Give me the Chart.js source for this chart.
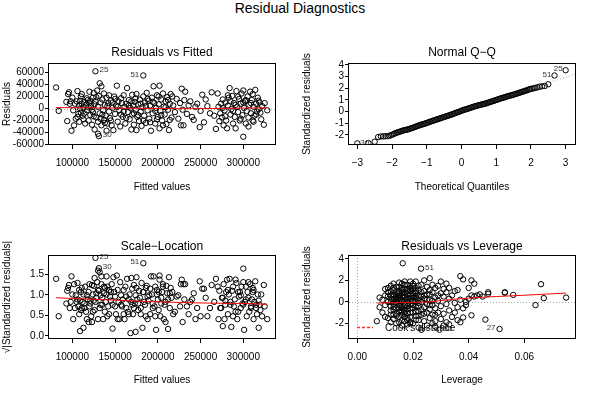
<!DOCTYPE html>
<html><head><meta charset="utf-8">
<script src="https://cdn.jsdelivr.net/npm/chart.js@4.4.0/dist/chart.umd.min.js"></script>
<style>
html,body{margin:0;padding:0;background:#fff;}
#wrap{position:relative;width:600px;height:400px;overflow:hidden;background:#fff;}
#wrap canvas{position:absolute;}
#main{position:absolute;left:0;top:0;width:600px;text-align:center;font:14px "Liberation Sans",Arial,sans-serif;line-height:16px;color:#000;}
</style></head><body>
<div id="wrap">
<div id="main">Residual Diagnostics</div>
<canvas id="c1" width="300" height="160" style="left:0;top:40px"></canvas>
<canvas id="c2" width="300" height="160" style="left:300px;top:40px"></canvas>
<canvas id="c3" width="300" height="168" style="left:0;top:232px"></canvas>
<canvas id="c4" width="300" height="168" style="left:300px;top:232px"></canvas>
</div>
<script>
// ---------- DATA ----------
const panelTitles = ["Residuals vs Fitted", "Normal Q\u2212Q", "Scale\u2212Location", "Residuals vs Leverage"];

const fittedTicks = [100000, 150000, 200000, 250000, 300000];
const fittedTickLabels = ["100000", "150000", "200000", "250000", "300000"];
const residTicks = [-60000, -40000, -20000, 0, 20000, 40000, 60000];
const residTickLabels = ["-60000", "-40000", "-20000", "0", "20000", "40000", "60000"];
const qqXTicks = [-3, -2, -1, 0, 1, 2, 3];
const qqXTickLabels = ["\u22123", "\u22122", "\u22121", "0", "1", "2", "3"];
const qqYTicks = [-2, -1, 0, 1, 2, 3, 4];
const qqYTickLabels = ["-2", "-1", "0", "1", "2", "3", "4"];
const slTicks = [0, 0.5, 1, 1.5];
const slTickLabels = ["0.0", "0.5", "1.0", "1.5"];
const levTicks = [0, 0.02, 0.04, 0.06];
const levTickLabels = ["0.00", "0.02", "0.04", "0.06"];
const levYTicks = [-2, 0, 2, 4];
const levYTickLabels = ["-2", "0", "2", "4"];

// [fitted, residual]
const residualsVsFitted = [
[81000,35000],[84000,-4000],[93000,11000],[94000,-21000],[95000,24000],[96000,27000],[97000,8000],[98000,12000],[99000,-37000],[100000,18000],
[101000,-3000],[102000,-28000],[103000,8000],[104000,-17000],[105000,12000],[106000,29000],[107000,-9000],[108000,5000],[108000,-22000],[109000,13000],
[110000,-7000],[110000,20000],[111000,8000],[112000,-12000],[113000,2000],[113000,-18000],[114000,11000],[115000,-25000],[116000,6000],[117000,-3000],
[118000,14000],[119000,-20000],[120000,28000],[120000,9000],[121000,-11000],[122000,4000],[123000,-27000],[124000,18000],[124000,-6000],[125000,26000],
[126000,-35000],[126000,7000],[127000,62000],[127000,12000],[130000,-42000],[128000,-15000],[131000,-46000],[129000,30000],[130000,3000],[130000,-22000],
[131000,21000],[132000,-8000],[132000,42000],[133000,10000],[134000,-28000],[134000,37000],[135000,15000],[136000,-3000],[137000,25000],[137000,-19000],
[138000,6000],[139000,-12000],[140000,-37000],[140000,18000],[141000,-25000],[142000,9000],[143000,-5000],[144000,-16000],[145000,13000],[146000,-28000],
[147000,1000],[148000,-36000],[149000,20000],[150000,-9000],[151000,5000],[152000,38000],[153000,-22000],[154000,12000],[155000,-3000],[156000,-30000],
[157000,17000],[158000,9000],[159000,-14000],[160000,22000],[161000,3000],[162000,-25000],[163000,8000],[164000,34000],[165000,-6000],[166000,14000],
[167000,-18000],[168000,1000],[169000,-35000],[170000,23000],[170000,-10000],[171000,5000],[172000,-27000],[173000,11000],[174000,-2000],[175000,-36000],
[175000,24000],[176000,-14000],[177000,7000],[178000,-21000],[179000,15000],[180000,-5000],[181000,-29000],[183000,55000],[182000,2000],[183000,20000],
[184000,-12000],[185000,10000],[186000,-24000],[187000,26000],[188000,-3000],[189000,13000],[190000,-17000],[191000,5000],[192000,-37000],[193000,18000],
[194000,-8000],[195000,37000],[196000,9000],[197000,-25000],[198000,1000],[199000,22000],[200000,-14000],[201000,7000],[202000,38000],[202000,-33000],
[203000,-4000],[204000,15000],[205000,-20000],[206000,25000],[207000,3000],[208000,-10000],[209000,12000],[210000,-26000],[211000,19000],[212000,-2000],
[213000,-36000],[214000,8000],[215000,24000],[216000,-15000],[218000,5000],[220000,-6000],[222000,16000],[224000,-17000],[226000,9000],[227000,-28000],
[228000,33000],[229000,-2000],[230000,-28000],[231000,14000],[232000,28000],[234000,-9000],[236000,5000],[238000,12000],[240000,-14000],[242000,-19000],
[244000,3000],[246000,8000],[249000,-31000],[250000,-4000],[252000,23000],[254000,-23000],[256000,15000],[258000,4000],[261000,-8000],[263000,27000],
[266000,-12000],[268000,-34000],[270000,25000],[271000,3000],[272000,-21000],[274000,8000],[275000,-15000],[276000,15000],[277000,-28000],[278000,-3000],
[279000,10000],[280000,-20000],[281000,-33000],[282000,5000],[283000,18000],[284000,34000],[285000,-10000],[286000,-1000],[287000,21000],[288000,-25000],
[289000,9000],[290000,-14000],[291000,-33000],[292000,29000],[293000,3000],[294000,-6000],[295000,16000],[296000,-20000],[297000,8000],[298000,25000],
[299000,-11000],[300000,-47000],[300000,30000],[301000,1000],[302000,12000],[303000,-25000],[304000,-4000],[305000,20000],[306000,-15000],[307000,6000],
[308000,28000],[309000,-8000],[310000,14000],[311000,-20000],[312000,3000],[313000,-12000],[314000,31000],[315000,8000],[316000,-5000],[317000,18000],
[318000,-1000],[319000,10000],[320000,-7000],[322000,4000],[324000,-27000],[325000,9000],[328000,-3000],
[106000,-14000],[109000,0],[111000,24000],[114000,-8000],[117000,17000],[119000,2000],[121000,13000],[123000,-2000],[125000,-13000],[128000,19000],
[133000,-17000],[135000,-10000],[138000,-24000],[141000,4000],[143000,22000],[145000,-20000],[147000,10000],[150000,16000],[153000,3000],[157000,-10000],
[160000,-5000],[163000,-16000],[166000,5000],[169000,12000],[172000,-8000],[174000,17000],[177000,-11000],[180000,8000],[183000,-20000],[186000,4000],
[188000,16000],[191000,-23000],[194000,11000],[197000,-4000],[199000,-18000],[201000,20000],[204000,-11000],[206000,-28000],[209000,2000],[212000,14000],
[214000,-19000],[217000,20000],[273000,-8000],[276000,1000],[279000,-13000],[282000,22000],[285000,12000],[288000,-4000],[291000,6000],[294000,20000],
[297000,-17000],[300000,10000],[303000,14000],[306000,-30000],[309000,9000],[312000,-22000],[315000,-10000],[318000,13000],[321000,-18000],[311000,24000]
];
const fittedSmooth = [[81000,1500],[120000,1200],[160000,500],[200000,0],[240000,-200],[280000,300],[328000,1200]];
const fittedLabels = [{text:"25",x:127000,y:62000,pos:"right"},{text:"51",x:183000,y:55000,pos:"left"},{text:"30",x:131000,y:-46000,pos:"right"}];

// [theoretical quantile, standardized residual]
const normalQQ = [
[-3.0,-2.72],[-2.68,-2.7],[-2.5,-2.58],[-2.4,-2.18],[-2.32,-2.13],[-2.25,-2.12],[-2.19,-2.11],[-2.13,-2.1],[-2.08,-2.07],[-2.03,-2.02],
[-1.98,-1.96],[-1.94,-1.9],[-1.9,-1.84],[-1.86,-1.8],[-1.82,-1.76],[-1.78,-1.72],[-1.74,-1.68],[-1.7,-1.64],[-1.66,-1.6],[-1.62,-1.57],
[-1.58,-1.55],[-1.54,-1.52],[-1.5,-1.48],[-1.46,-1.44],[-1.42,-1.4],[-1.38,-1.36],[-1.34,-1.31],[-1.3,-1.27],[-1.26,-1.22],[-1.22,-1.18],
[-1.18,-1.14],[-1.14,-1.1],[-1.1,-1.07],[-1.06,-1.03],[-1.02,-0.99],[-0.98,-0.95],[-0.94,-0.9],[-0.9,-0.86],[-0.86,-0.82],[-0.82,-0.78],
[-0.78,-0.74],[-0.74,-0.7],[-0.7,-0.66],[-0.66,-0.62],[-0.62,-0.58],[-0.58,-0.54],[-0.54,-0.5],[-0.5,-0.46],[-0.46,-0.42],[-0.42,-0.38],
[-0.38,-0.34],[-0.34,-0.3],[-0.3,-0.26],[-0.26,-0.22],[-0.22,-0.17],[-0.18,-0.12],[-0.14,-0.08],[-0.1,-0.04],[-0.06,0.0],[-0.02,0.05],
[0.02,0.1],[0.06,0.14],[0.1,0.18],[0.14,0.21],[0.18,0.25],[0.22,0.29],[0.26,0.33],[0.3,0.37],[0.34,0.41],[0.38,0.45],
[0.42,0.48],[0.46,0.52],[0.5,0.55],[0.54,0.58],[0.58,0.61],[0.62,0.64],[0.66,0.67],[0.7,0.7],[0.74,0.74],[0.78,0.78],
[0.82,0.82],[0.86,0.86],[0.9,0.9],[0.94,0.94],[0.98,0.98],[1.02,1.02],[1.06,1.06],[1.1,1.1],[1.14,1.14],[1.18,1.18],
[1.22,1.21],[1.26,1.25],[1.3,1.29],[1.34,1.33],[1.38,1.36],[1.42,1.39],[1.46,1.42],[1.5,1.46],[1.54,1.49],[1.58,1.53],
[1.62,1.57],[1.66,1.61],[1.7,1.65],[1.74,1.69],[1.78,1.73],[1.82,1.77],[1.86,1.81],[1.9,1.85],[1.94,1.9],[1.98,1.94],
[2.03,1.97],[2.08,2.0],[2.13,2.04],[2.19,2.08],[2.25,2.14],[2.32,2.17],[2.4,2.2],[2.5,2.35],[2.68,3.1],[3.0,3.55]
];
const qqLineIntercept = 0.05;
const qqLineSlope = 0.97;
const qqLabels = [{text:"25",x:3.0,y:3.55,pos:"left"},{text:"51",x:2.68,y:3.1,pos:"left"},{text:"30",x:-3.0,y:-2.72,pos:"right"}];

// [fitted, sqrt(|standardized residual|)]
const scaleLocation = [
[81000,1.39],[84000,0.48],[93000,0.79],[94000,1.10],[95000,1.17],[96000,1.24],[97000,0.68],[98000,0.83],[99000,1.45],[100000,1.01],
[101000,0.41],[102000,1.26],[103000,0.68],[104000,0.99],[105000,0.83],[106000,1.29],[107000,0.72],[108000,0.53],[108000,1.12],[109000,0.86],
[110000,0.63],[110000,1.07],[111000,0.68],[112000,0.83],[113000,0.20],[113000,1.01],[114000,0.79],[115000,1.20],[116000,0.59],[117000,0.41],
[118000,0.89],[119000,1.07],[120000,1.26],[120000,0.72],[121000,0.79],[122000,0.48],[123000,1.24],[124000,1.01],[124000,0.59],[125000,1.22],
[126000,1.41],[126000,0.63],[127000,1.90],[127000,0.83],[130000,1.59],[128000,0.93],[131000,1.65],[129000,1.31],[130000,0.41],[130000,1.12],
[131000,1.10],[132000,0.68],[132000,1.55],[133000,0.76],[134000,1.26],[134000,1.45],[135000,0.93],[136000,0.41],[137000,1.20],[137000,1.04],
[138000,0.59],[139000,0.83],[140000,1.45],[140000,1.01],[141000,1.20],[142000,0.72],[143000,0.53],[144000,0.96],[145000,0.86],[146000,1.26],
[147000,0.18],[148000,1.43],[149000,1.07],[150000,0.72],[151000,0.53],[152000,1.47],[153000,1.12],[154000,0.83],[155000,0.41],[156000,1.31],
[157000,0.99],[158000,0.72],[159000,0.89],[160000,1.12],[161000,0.41],[162000,1.20],[163000,0.68],[164000,1.39],[165000,0.59],[166000,0.89],
[167000,1.01],[168000,0.07],[169000,1.41],[170000,1.15],[170000,0.76],[171000,0.53],[172000,1.24],[173000,0.79],[174000,0.10],[175000,1.43],
[175000,1.17],[176000,0.89],[177000,0.63],[178000,1.10],[179000,0.93],[180000,0.53],[181000,1.29],[183000,1.77],[182000,0.20],[183000,1.07],
[184000,0.83],[185000,0.76],[186000,1.17],[187000,1.22],[188000,0.41],[189000,0.86],[190000,0.99],[191000,0.53],[192000,1.45],[193000,1.01],
[194000,0.68],[195000,1.45],[196000,0.72],[197000,1.20],[198000,0.15],[199000,1.12],[200000,0.89],[201000,0.63],[202000,1.47],[202000,1.37],
[203000,0.48],[204000,0.93],[205000,1.07],[206000,1.20],[207000,0.41],[208000,0.76],[209000,0.83],[210000,1.22],[211000,1.04],[212000,0.17],
[213000,1.43],[214000,0.68],[215000,1.17],[216000,0.93],[218000,0.53],[220000,0.59],[222000,0.96],[224000,0.99],[226000,0.72],[227000,1.26],
[228000,1.37],[229000,0.34],[230000,1.26],[231000,0.89],[232000,1.26],[234000,0.72],[236000,0.53],[238000,0.83],[240000,0.89],[242000,1.04],
[244000,0.41],[246000,0.68],[249000,1.33],[250000,0.48],[252000,1.15],[254000,1.15],[256000,0.93],[258000,0.48],[261000,0.68],[263000,1.24],
[266000,0.83],[268000,1.39],[270000,1.20],[271000,0.41],[272000,1.10],[274000,0.68],[275000,0.93],[276000,0.93],[277000,1.26],[278000,0.41],
[279000,0.76],[280000,1.07],[281000,1.37],[282000,0.53],[283000,1.01],[284000,1.39],[285000,0.76],[286000,0.22],[287000,1.10],[288000,1.20],
[289000,0.72],[290000,0.89],[291000,1.37],[292000,1.29],[293000,0.41],[294000,0.59],[295000,0.96],[296000,1.07],[297000,0.68],[298000,1.20],
[299000,0.79],[300000,1.64],[300000,1.31],[301000,0.15],[302000,0.83],[303000,1.20],[304000,0.48],[305000,1.07],[306000,0.93],[307000,0.59],
[308000,1.26],[309000,0.68],[310000,0.89],[311000,1.07],[312000,0.41],[313000,0.83],[314000,1.33],[315000,0.68],[316000,0.53],[317000,1.01],
[318000,0.20],[319000,0.76],[320000,0.63],[322000,0.48],[324000,1.24],[325000,0.72],[328000,0.41],
[106000,0.89],[109000,0.12],[111000,1.17],[114000,0.68],[117000,0.99],[119000,0.34],[121000,0.86],[123000,0.34],[125000,0.86],[128000,1.04],
[133000,0.99],[135000,0.76],[138000,1.17],[141000,0.48],[143000,1.12],[145000,1.07],[147000,0.76],[150000,0.96],[153000,0.41],[157000,0.76],
[160000,0.53],[163000,0.96],[166000,0.53],[169000,0.83],[172000,0.68],[174000,0.99],[177000,0.79],[180000,0.68],[183000,1.07],[186000,0.48],
[188000,0.96],[191000,1.15],[194000,0.79],[197000,0.48],[199000,1.01],[201000,1.07],[204000,0.79],[206000,1.26],[209000,0.34],[212000,0.89],
[214000,1.04],[217000,1.07],[273000,0.68],[276000,0.24],[279000,0.86],[282000,1.12],[285000,0.83],[288000,0.48],[291000,0.59],[294000,1.07],
[297000,0.99],[300000,0.76],[303000,0.89],[306000,1.31],[309000,0.72],[312000,1.12],[315000,0.76],[318000,0.86],[321000,1.01],[311000,1.17]
];
const scaleLocationSmooth = [[81000,0.93],[140000,0.88],[200000,0.83],[260000,0.80],[300000,0.79],[328000,0.77]];
const scaleLocationLabels = [{text:"25",x:127000,y:1.90,pos:"right"},{text:"51",x:183000,y:1.77,pos:"left"},{text:"30",x:131000,y:1.65,pos:"right"}];

// [leverage, standardized residual]
const residualsVsLeverage = [
[0.007,-1.8],[0.008,-0.5],[0.008,0.4],[0.009,0.2],[0.009,-1.0],[0.010,0.6],[0.010,-0.3],[0.010,1.2],[0.011,-1.5],[0.011,0.9],
[0.011,0.0],[0.012,1.5],[0.012,-0.8],[0.012,0.3],[0.012,-1.9],[0.013,1.7],[0.013,-0.2],[0.013,0.7],[0.013,-1.2],[0.013,1.1],
[0.014,-0.6],[0.014,0.4],[0.014,-2.0],[0.014,1.4],[0.014,-0.1],[0.015,0.8],[0.015,-1.4],[0.015,1.8],[0.015,0.1],[0.015,-0.9],
[0.015,1.0],[0.0163,3.6],[0.016,-0.4],[0.016,0.5],[0.016,-1.7],[0.016,1.3],[0.016,-2.2],[0.016,0.0],[0.017,1.6],[0.017,-1.1],
[0.017,0.6],[0.017,-0.3],[0.017,1.9],[0.017,-1.8],[0.017,0.9],[0.018,-0.7],[0.018,0.2],[0.018,1.2],[0.018,-1.5],[0.018,0.7],
[0.018,-2.1],[0.019,1.5],[0.019,-0.2],[0.019,0.4],[0.019,-1.0],[0.019,1.0],[0.019,-1.9],[0.020,0.1],[0.020,1.7],[0.020,-0.6],
[0.020,-2.0],[0.020,0.8],[0.021,-1.3],[0.021,1.3],[0.021,0.3],[0.021,-0.4],[0.021,1.9],[0.022,-1.7],[0.022,0.6],[0.022,-0.9],
[0.022,1.1],[0.022,-2.4],[0.0229,3.1],[0.023,0.0],[0.023,-1.2],[0.023,1.6],[0.023,0.5],[0.023,-2.6],[0.024,-0.5],[0.024,1.0],
[0.024,-1.8],[0.024,0.3],[0.024,2.0],[0.025,-1.0],[0.025,0.7],[0.025,-0.2],[0.025,1.4],[0.025,-2.2],[0.026,2.2],[0.026,0.2],
[0.026,-1.5],[0.026,1.1],[0.026,-0.7],[0.027,-2.0],[0.027,0.9],[0.027,-0.3],[0.027,1.6],[0.027,-1.2],[0.028,0.4],[0.028,-1.8],
[0.028,1.3],[0.028,-0.6],[0.028,-2.3],[0.029,1.5],[0.029,0.1],[0.029,-1.0],[0.0295,-2.6],[0.030,0.8],[0.030,-0.4],[0.030,1.9],
[0.030,-1.6],[0.031,-2.2],[0.031,0.5],[0.031,1.2],[0.031,-1.1],[0.032,1.7],[0.032,-0.2],[0.032,-1.9],[0.032,0.9],[0.033,-0.8],
[0.033,0.3],[0.033,1.3],[0.033,-2.1],[0.034,-1.4],[0.034,0.6],[0.035,1.0],[0.035,-1.0],[0.035,-0.1],[0.036,-0.5],[0.036,1.1],
[0.036,-1.7],[0.037,2.4],[0.037,-1.9],[0.037,0.2],[0.038,2.1],[0.038,-1.45],[0.038,-0.6],[0.039,0.0],[0.039,-0.3],[0.040,0.3],
[0.040,1.3],[0.041,2.0],[0.041,-1.25],[0.041,0.6],[0.042,1.7],[0.042,0.5],[0.043,0.6],[0.044,0.7],[0.045,0.5],[0.046,-1.65],
[0.047,0.9],[0.047,0.75],[0.0511,-2.53],[0.053,0.9],[0.053,0.85],[0.056,0.65],[0.064,-0.3],[0.066,1.65],[0.067,0.35],[0.075,0.4],
[0.011,0.5],[0.012,-0.4],[0.012,1.0],[0.013,0.2],[0.013,-0.7],[0.014,0.9],[0.014,-1.1],[0.015,0.3],[0.015,-0.3],[0.015,1.4],
[0.016,0.8],[0.016,-0.9],[0.016,1.7],[0.017,0.2],[0.017,-0.6],[0.017,1.2],[0.018,-0.1],[0.018,-1.1],[0.018,1.6],[0.019,0.7],
[0.019,-0.6],[0.019,1.9],[0.020,0.4],[0.020,-1.0],[0.020,1.2],[0.021,0.0],[0.021,-1.7],[0.021,0.8],[0.022,0.2],[0.022,1.5],
[0.022,-0.4],[0.014,0.0],[0.013,-1.6],[0.012,-1.2],[0.011,1.3],[0.010,-1.4],[0.019,-1.4],[0.018,0.4],[0.016,0.2],[0.017,-1.4],
[0.012,0.6],[0.013,1.3],[0.013,-0.5],[0.014,0.6],[0.014,-1.3],[0.015,-0.6],[0.015,0.55],[0.016,1.1],[0.016,-1.2],[0.017,0.4],
[0.017,-0.9],[0.018,1.0],[0.018,-0.4],[0.019,0.1],[0.019,1.3],[0.020,-0.3],[0.020,0.6],[0.021,-0.9],[0.021,0.5],[0.022,-0.1],
[0.023,0.9],[0.023,-0.7],[0.024,0.6],[0.024,-1.1],[0.025,0.2],[0.026,-0.3],[0.026,0.7],[0.027,0.1],[0.028,-1.2],[0.029,0.6],
[0.012,0.0],[0.014,0.3],[0.016,-0.6],[0.018,-1.7],[0.020,1.5],[0.022,-1.3],[0.015,-1.9],[0.019,-2.0],[0.013,0.5],[0.021,1.0]
];
const leverageSmooth = [[0.007,-0.12],[0.015,-0.06],[0.025,-0.02],[0.03,0.12],[0.035,0.25],[0.04,0.35],[0.05,0.5],[0.06,0.62],[0.075,0.82]];
const leverageLabels = [{text:"51",x:0.0229,y:3.1,pos:"right"},{text:"30",x:0.0295,y:-2.6,pos:"right"},{text:"27",x:0.0511,y:-2.53,pos:"left"}];
const cookLegendText = "Cook's distance";

// ---------- RENDERING ----------
const FONT = '"Liberation Sans", Arial, Helvetica, sans-serif';
Chart.defaults.font.family = FONT;
Chart.defaults.color = '#000';

const toXY = arr => arr.map(p => ({x: p[0], y: p[1]}));

const panelPlugin = {
  id: 'panel',
  beforeDatasetsDraw(chart, args, o) {
    const {ctx, chartArea: a, scales} = chart;
    ctx.save();
    ctx.beginPath(); ctx.rect(a.left, a.top, a.right - a.left, a.bottom - a.top); ctx.clip();
    ctx.strokeStyle = '#a8a8a8'; ctx.lineWidth = 1; ctx.setLineDash([1, 2]);
    (o.hLines || []).forEach(v => {
      const y = Math.round(scales.y.getPixelForValue(v)) + 0.5;
      ctx.beginPath(); ctx.moveTo(a.left, y); ctx.lineTo(a.right, y); ctx.stroke();
    });
    (o.vLines || []).forEach(v => {
      const x = Math.round(scales.x.getPixelForValue(v)) + 0.5;
      ctx.beginPath(); ctx.moveTo(x, a.top); ctx.lineTo(x, a.bottom); ctx.stroke();
    });
    if (o.refLine) {
      const [b0, b1] = o.refLine, x0 = scales.x.min, x1 = scales.x.max;
      ctx.beginPath();
      ctx.moveTo(scales.x.getPixelForValue(x0), scales.y.getPixelForValue(b0 + b1 * x0));
      ctx.lineTo(scales.x.getPixelForValue(x1), scales.y.getPixelForValue(b0 + b1 * x1));
      ctx.stroke();
    }
    ctx.restore();
  },
  afterDraw(chart, args, o) {
    const {ctx, chartArea: a, scales} = chart;
    ctx.save();
    ctx.strokeStyle = '#000'; ctx.lineWidth = 1;
    ctx.strokeRect(Math.round(a.left) - 0.5, Math.round(a.top) + 0.5, Math.round(a.right - a.left) + 1, Math.round(a.bottom - a.top) - 1);
    ctx.fillStyle = '#000'; ctx.font = '12px ' + FONT; ctx.textAlign = 'center'; ctx.textBaseline = 'middle';
    ctx.fillText(o.title, (a.left + a.right) / 2, a.top - o.titleOffset);
    ctx.font = '8px ' + FONT; ctx.fillStyle = '#333';
    const off = o.labelOffset || 4;
    (o.labels || []).forEach(l => {
      const px = scales.x.getPixelForValue(l.x), py = scales.y.getPixelForValue(l.y);
      ctx.textAlign = l.pos === 'left' ? 'right' : 'left';
      ctx.fillText(l.text, l.pos === 'left' ? px - off : px + off, py - 1);
    });
    if (o.legend) {
      const y = a.bottom - 12;
      ctx.strokeStyle = '#ff2a2a'; ctx.setLineDash([3, 2]); ctx.lineWidth = 1.5;
      ctx.beginPath(); ctx.moveTo(a.left + 8, y + 0.5); ctx.lineTo(a.left + 24, y + 0.5); ctx.stroke();
      ctx.setLineDash([]);
      ctx.fillStyle = '#000'; ctx.font = '10px ' + FONT; ctx.textAlign = 'left'; ctx.textBaseline = 'middle';
      ctx.fillText(o.legend, a.left + 36, y + 1);
    }
    ctx.restore();
  }
};

function axis(c) {
  const horiz = c.horizontal;
  return {
    type: 'linear', min: c.min, max: c.max,
    afterBuildTicks: s => { s.ticks = c.ticks.map(v => ({value: v})); },
    afterFit: s => { if (horiz) s.height = c.size; else s.width = c.size; },
    ticks: {
      autoSkip: false, maxRotation: 0, minRotation: 0, font: {size: 10}, color: '#000',
      padding: horiz ? 8 : 1,
      callback: (v) => { const i = c.ticks.findIndex(t => Math.abs(t - v) < 1e-9); return i >= 0 ? c.labels[i] : ''; }
    },
    grid: {display: true, drawOnChartArea: false, drawTicks: true, tickLength: 4, color: '#000', lineWidth: 1},
    border: {display: false},
    title: {display: true, text: c.title, font: {size: 10}, color: '#000', padding: c.titlePad}
  };
}

function panel(id, cfg) {
  const datasets = [];
  if (cfg.smooth) datasets.push({type: 'line', data: toXY(cfg.smooth), borderColor: '#ff0000', borderWidth: 1, pointRadius: 0, tension: 0.35, fill: false});
  datasets.push({type: 'scatter', data: toXY(cfg.points), pointStyle: 'circle', pointRadius: 2.7, borderWidth: 1, borderColor: '#000', backgroundColor: 'rgba(0,0,0,0)'});
  new Chart(document.getElementById(id), {
    type: 'scatter',
    data: {datasets},
    options: {
      responsive: false, animation: false, events: [],
      layout: {padding: {left: 0, right: 25, top: 23, bottom: 0}},
      plugins: {legend: {display: false}, tooltip: {enabled: false}, title: {display: false},
        panel: cfg.deco},
      scales: {
        x: axis(Object.assign({horizontal: true}, cfg.x)),
        y: axis(Object.assign({horizontal: false, size: 49, titlePad: {top: 1, bottom: 0}}, cfg.y))
      }
    },
    plugins: [panelPlugin]
  });
}

const topX = {size: 55, titlePad: {top: 0, bottom: 7}};
const botX = {size: 61, titlePad: {top: 0, bottom: 14}};

panel('c1', {
  points: residualsVsFitted, smooth: fittedSmooth,
  x: Object.assign({min: 72660, max: 337100, ticks: fittedTicks, labels: fittedTickLabels, title: 'Fitted values'}, topX),
  y: {min: -60760, max: 75760, ticks: residTicks, labels: residTickLabels, title: 'Residuals'},
  deco: {title: panelTitles[0], titleOffset: 10, hLines: [0], labels: fittedLabels}
});
panel('c2', {
  points: normalQQ,
  x: Object.assign({min: -3.24, max: 3.27, ticks: qqXTicks, labels: qqXTickLabels, title: 'Theoretical Quantiles'}, topX),
  y: {min: -2.86, max: 4.17, ticks: qqYTicks, labels: qqYTickLabels, title: 'Standardized residuals'},
  deco: {title: panelTitles[1], titleOffset: 10, refLine: [qqLineIntercept, qqLineSlope], labels: qqLabels, labelOffset: 3}
});
panel('c3', {
  points: scaleLocation, smooth: scaleLocationSmooth,
  x: Object.assign({min: 72660, max: 337100, ticks: fittedTicks, labels: fittedTickLabels, title: 'Fitted values'}, botX),
  y: {min: -0.073, max: 1.97, ticks: slTicks, labels: slTickLabels, title: '\u221A|Standardized residuals|'},
  deco: {title: panelTitles[2], titleOffset: 8, labels: scaleLocationLabels}
});
panel('c4', {
  points: residualsVsLeverage, smooth: leverageSmooth,
  x: Object.assign({min: -0.003, max: 0.0782, ticks: levTicks, labels: levTickLabels, title: 'Leverage'}, botX),
  y: {min: -3.46, max: 4.37, ticks: levYTicks, labels: levYTickLabels, title: 'Standardized residuals'},
  deco: {title: panelTitles[3], titleOffset: 8, hLines: [0], vLines: [0], labels: leverageLabels, legend: cookLegendText}
});
</script>
</body></html>
